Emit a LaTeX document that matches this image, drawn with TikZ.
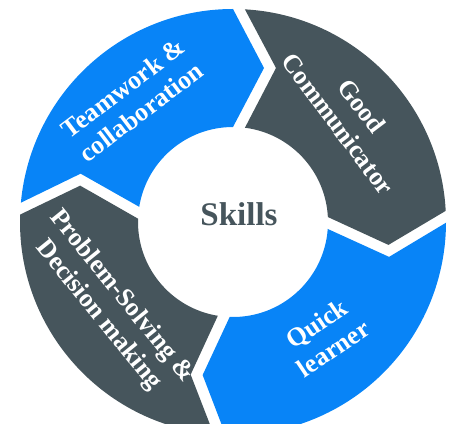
\documentclass[tikz,border=0pt]{standalone}
\usepackage{fontspec}
\setmainfont{Liberation Serif}
\usetikzlibrary{calc}
\definecolor{skyblue}{RGB}{8,132,247}
\definecolor{slate}{RGB}{70,85,92}

\begin{document}
\begin{tikzpicture}[x=1pt,y=1pt]
    \useasboundingbox (0,0) rectangle (452,423);
    \clip (0,0) rectangle (452,423);
    \coordinate (C) at (233,201);

    % ring of arrows: tail angle / head angle / head tip / tail tip / colour
    \begin{scope}
        \foreach \a/\b/\d/\e/\col in {178/90/31/43/skyblue, 90/3/31/43/slate,
                                      3/-92/25/43/skyblue, 268/178/31/37/slate}
            \fill[\col] ($(C)+(\a-3.2:213)$) arc[start angle=\a-3.2, end angle=\b, radius=213]
                -- ($(C)+(\b:154)+(\b-90:\d)$) -- ($(C)+(\b:95)$)
                arc[start angle=\b, end angle=\a-7.2, radius=95]
                -- ($(C)+(\a:154)+(\a-90:\e)$) -- cycle;
    \end{scope}

    \begin{scope}[every node/.style={text=white, font=\bfseries\fontsize{26}{30}\selectfont, align=center}]
        \node[rotate=37] (team) at (132,323) {Teamwork \&\\collaboration};
        \node[rotate=-53] (comm) at (350,308) {Good\\Communicator};
        \node[rotate=34] (quick) at (325,87) {Quick\\learner};
        \node[rotate=-51] (prob) at (110,117) {Problem-Solving \&\\Decision making};
    \end{scope}
    \node[text=slate, font=\bfseries\fontsize{33}{36}\selectfont] (skills) at (239,209) {Skills};
\end{tikzpicture}
\end{document}
